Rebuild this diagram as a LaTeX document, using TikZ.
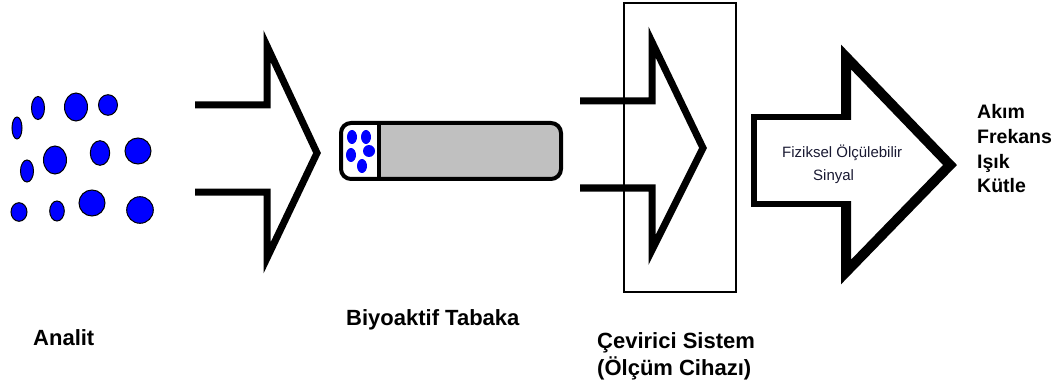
\documentclass[tikz,border=0pt]{standalone}
\usepackage{fontspec}
\setmainfont{Liberation Sans}
\definecolor{dotblue}{RGB}{0,0,255}
\definecolor{layergray}{RGB}{192,192,192}
\definecolor{signalink}{RGB}{25,25,50}
\begin{document}
\begin{tikzpicture}[x=1pt,y=-1pt,
  dot/.style={fill=dotblue,draw=black,line width=1pt},
  fatline/.style={line width=7pt,line join=miter,miter limit=10},
  label/.style={anchor=base west,inner sep=0pt,font=\bfseries\fontsize{22}{27}\selectfont,align=left},
  outlist/.style={anchor=base west,inner sep=0pt,font=\bfseries\fontsize{19.5}{24.7}\selectfont,align=left},
  signal/.style={anchor=base west,inner sep=0pt,font=\fontsize{15}{18}\selectfont,text=signalink}]
\useasboundingbox (0,0) rectangle (1059,390);

% analyte particles
\foreach \cx/\cy/\rx/\ry in {17/128/5/11, 38/108/6.5/11.5, 76/107/11.5/14, 108/105/9.5/10.3,
  27/171/6.5/11, 55/160/11.5/14, 100/153/9.7/12.3, 138/151/13/13,
  19/212/8/9.3, 57/211/7.3/10, 92/203/13/13, 140/210/13.3/13.3}
  \draw[dot] (\cx,\cy) ellipse [x radius=\rx, y radius=\ry];

% first open arrow
\draw[fatline] (195,105) -- (267,105) -- (267,46) -- (317,153) -- (267,258) -- (267,192) -- (195,192);

% bioactive layer strip: grey body, white pocket holding the bound particles
\fill[layergray,rounded corners=10pt] (341,123) rectangle (561,179);
\fill[white] (343,125) rectangle (379,177);
\draw[line width=4pt,rounded corners=10pt] (341,123) rectangle (561,179);
\draw[line width=4pt] (379,123) -- (379,179);
\foreach \cx/\cy/\rx/\ry in {352/137/5/7, 366/137/5/7, 351/155/5/7, 369/151/6/6, 362/166/5/7}
  \fill[dotblue] (\cx,\cy) ellipse [x radius=\rx, y radius=\ry];

% transducer housing and its arrow
\draw[line width=2.5pt] (624,3) rectangle (736,292);
\draw[fatline] (580,101) -- (652,101) -- (652,42) -- (703,148) -- (652,250) -- (652,188) -- (580,188);

% measurable signal arrow
\draw[line width=6pt,line join=miter] (846,117) -- (754,117) -- (754,204) -- (846,204);
\draw[line width=10pt,line join=miter,miter limit=10] (846,120) -- (846,57) -- (950,165) -- (846,272) -- (846,201);
\node[signal] (sig1) at (782,158) {Fiziksel Ölçülebilir};
\node[signal] (sig2) at (813,180) {Sinyal};

% output quantities (anchored on the baseline of the last line)
\node[outlist] (out) at (977,193) {Akım\\Frekans\\Işık\\Kütle};

% captions
\node[label] (analit) at (33,345) {Analit};
\node[label] (biyo) at (346,325) {Biyoaktif Tabaka};
\node[label] (cevir) at (597,375) {Çevirici Sistem\\(Ölçüm Cihazı)};
\end{tikzpicture}
\end{document}
